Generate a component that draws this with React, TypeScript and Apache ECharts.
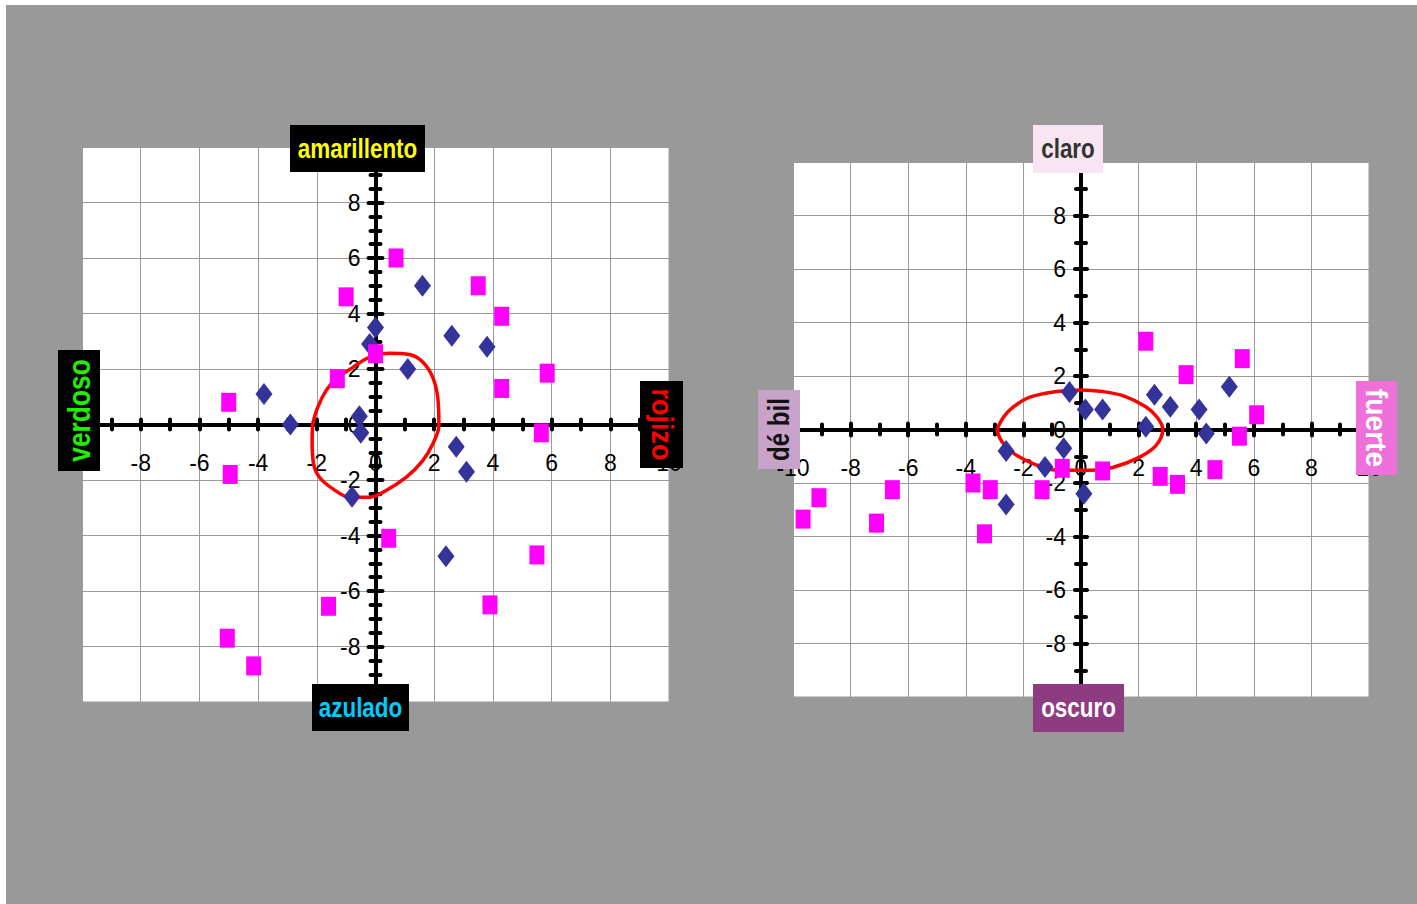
import React, { useEffect, useRef } from "react";
import * as echarts from "echarts";

// Left chart (amarillento / azulado / verdoso / rojizo)
const leftDiamonds: [number, number][] = [
  [-3.8, 1.1], [-2.9, 0.0], [-0.55, 0.3], [-0.5, -0.3], [0.0, 3.5], [-0.2, 2.9],
  [1.6, 5.0], [2.6, 3.2], [3.8, 2.8], [1.1, 2.0], [2.75, -0.8], [3.1, -1.7],
  [2.4, -4.75], [-0.8, -2.6],
];
const leftSquares: [number, number][] = [
  [0.7, 6.0], [-1.0, 4.6], [3.5, 5.0], [4.3, 3.9], [0.0, 2.55], [-1.3, 1.65],
  [5.85, 1.85], [4.3, 1.3], [-5.0, 0.8], [5.65, -0.3], [-4.95, -1.8], [0.45, -4.1],
  [5.5, -4.7], [-1.6, -6.55], [3.9, -6.5], [-5.05, -7.7], [-4.15, -8.7],
];
const leftLoop: [number, number][] = [
  [-2.14, 0.03], [-1.97, 0.62], [-1.68, 1.23], [-1.34, 1.65], [-0.77, 2.06], [-0.32, 2.37],
  [-0.03, 2.49], [0.48, 2.57], [1.16, 2.52], [1.61, 2.25], [1.95, 1.7], [2.12, 0.98],
  [2.16, -0.04], [1.95, -0.7], [1.61, -1.3], [1.05, -1.9], [0.36, -2.38], [-0.2, -2.62],
  [-0.89, -2.62], [-1.45, -2.32], [-1.91, -1.9], [-2.11, -1.42], [-2.16, -0.58], [-2.14, 0.03],
];

// Right chart (claro / oscuro / débil / fuerte)
const rightDiamonds: [number, number][] = [
  [-0.4, 1.4], [0.15, 0.75], [0.75, 0.75], [2.55, 1.3], [2.25, 0.1], [3.1, 0.85],
  [4.1, 0.75], [4.35, -0.15], [5.15, 1.6], [0.1, -2.4], [-2.6, -0.8], [-0.6, -0.7],
  [-1.25, -1.4], [-2.6, -2.8],
];
const rightSquares: [number, number][] = [
  [-9.1, -2.55], [-9.65, -3.35], [-6.55, -2.25], [-7.1, -3.5], [-3.75, -2.0], [-3.15, -2.25],
  [-3.35, -3.9], [-1.35, -2.25], [-0.65, -1.45], [0.75, -1.55], [2.25, 3.3], [5.6, 2.65],
  [3.65, 2.05], [6.1, 0.55], [5.5, -0.25], [4.65, -1.5], [2.75, -1.75], [3.35, -2.05],
];
const rightLoop: [number, number][] = [
  [-2.92, 0.0], [-2.7, 0.45], [-2.4, 0.8], [-1.8, 1.2], [-0.85, 1.42], [0.0, 1.48],
  [0.75, 1.42], [1.5, 1.25], [2.25, 0.85], [2.65, 0.45], [2.84, 0.0], [2.6, -0.6],
  [2.0, -1.05], [1.1, -1.42], [0.4, -1.52], [-0.85, -1.52], [-1.6, -1.3], [-2.3, -0.92],
  [-2.75, -0.45], [-2.92, 0.0],
];

const axisMin = -10;
const axisMax = 10;
const axisStep = 2;

const FONT = '"Liberation Sans", Arial, Helvetica, sans-serif';

const grids = [
  { left: 82, top: 147, width: 587, height: 555 },
  { left: 793, top: 162, width: 576, height: 535 },
];

function makeAxes(
  dim: "x" | "y",
  g: number,
  minorSplit: number,
  margin: number,
  majorLen: number,
  minorLen: number
) {
  const base: any = { type: "value", gridIndex: g, min: axisMin, max: axisMax, interval: axisStep };
  const pos = dim === "x" ? "bottom" : "left";
  // the crossing axes sit in the middle of the plot, where the value 0 lies
  const offset = dim === "x" ? -grids[g].height / 2 : -grids[g].width / 2;
  const gridAxis = {
    ...base,
    position: pos,
    axisLine: { show: false, onZero: false },
    axisTick: { show: false },
    axisLabel: { show: false },
    splitLine: { show: true, lineStyle: { color: "#9a9a9a", width: 1 } },
  };
  const tickStyle = { color: "#000", width: 4, cap: "round" };
  const outAxis = {
    ...base,
    position: pos,
    offset,
    axisLine: { show: true, onZero: false, lineStyle: { color: "#000", width: 4 } },
    axisTick: { show: true, inside: false, length: majorLen, lineStyle: tickStyle },
    minorTick: { show: true, splitNumber: minorSplit, length: minorLen, lineStyle: tickStyle },
    axisLabel: { show: true, margin, fontSize: 23, fontFamily: FONT, color: "#000" },
    splitLine: { show: false },
    minorSplitLine: { show: false },
  };
  const inAxis = {
    ...outAxis,
    axisTick: { ...outAxis.axisTick, inside: true },
    axisLabel: { show: false },
  };
  return [gridAxis, outAxis, inAxis];
}

function box(
  x: number, y: number, w: number, h: number, fill: string,
  text: string, color: string, fontSize: number, sx: number, rotation: number
) {
  return [
    { type: "rect", z: 100, shape: { x, y, width: w, height: h }, style: { fill } },
    {
      type: "text",
      z: 101,
      x: x + w / 2,
      y: y + h / 2,
      rotation,
      scaleX: sx,
      scaleY: 1,
      style: {
        text,
        fill: color,
        fontSize,
        fontWeight: "bold",
        fontFamily: FONT,
        align: "center",
        verticalAlign: "middle",
      },
    },
  ];
}

export default function App() {
  const ref = useRef<HTMLDivElement>(null);
  useEffect(() => {
    if (!ref.current) return;
    const chart = echarts.init(ref.current, undefined, { renderer: "svg" });
    const loopSeries = (data: [number, number][], ax: number) => ({
      type: "line",
      xAxisIndex: ax,
      yAxisIndex: ax,
      data,
      symbol: "none",
      showSymbol: false,
      smooth: 0.35,
      lineStyle: { color: "#ff0000", width: 3.5 },
      z: 3,
    });
    const diamondSeries = (data: [number, number][], ax: number) => ({
      type: "scatter",
      xAxisIndex: ax,
      yAxisIndex: ax,
      data,
      symbol: "diamond",
      symbolSize: [17, 22],
      itemStyle: { color: "#333399", opacity: 1 },
      z: 4,
    });
    const squareSeries = (data: [number, number][], ax: number) => ({
      type: "scatter",
      xAxisIndex: ax,
      yAxisIndex: ax,
      data,
      symbol: "rect",
      symbolSize: [15, 19],
      itemStyle: { color: "#ff00ff", opacity: 1 },
      z: 5,
    });
    chart.setOption({
      animation: false,
      backgroundColor: "transparent",
      grid: grids.map((g) => ({
        ...g,
        show: true,
        backgroundColor: "#fff",
        borderColor: "#9a9a9a",
        borderWidth: 1,
        outerBoundsMode: "none",
      })),
      xAxis: [...makeAxes("x", 0, 2, 27, 5, 5), ...makeAxes("x", 1, 2, 27, 6, 5)],
      yAxis: [...makeAxes("y", 0, 4, 15, 7, 5), ...makeAxes("y", 1, 2, 15, 6, 5)],
      series: [
        loopSeries(leftLoop, 0),
        diamondSeries(leftDiamonds, 0),
        squareSeries(leftSquares, 0),
        loopSeries(rightLoop, 3),
        diamondSeries(rightDiamonds, 3),
        squareSeries(rightSquares, 3),
      ],
      graphic: [
        ...box(290, 125, 135, 47, "#000", "amarillento", "#ffff00", 27, 0.83, 0),
        ...box(58, 350, 42, 121, "#000", "verdoso", "#22ee00", 31, 0.85, Math.PI / 2),
        ...box(640, 381, 43, 87, "#000", "rojizo", "#ff0000", 29, 0.93, -Math.PI / 2),
        ...box(312, 684, 97, 47, "#000", "azulado", "#00ccff", 27, 0.83, 0),
        ...box(1033, 125, 70, 48, "#f7e6f2", "claro", "#333333", 27, 0.83, 0),
        ...box(758, 390, 42, 79, "#c8a2c8", "dé bil", "#111111", 29, 0.83, Math.PI / 2),
        ...box(1356, 381, 41, 94, "#ee70da", "fuerte", "#ffffff", 30, 0.94, -Math.PI / 2),
        ...box(1033, 684, 91, 48, "#8e3b82", "oscuro", "#ffffff", 27, 0.83, 0),
      ],
    });
    return () => chart.dispose();
  }, []);
  return (
    <div style={{ position: "absolute", left: 0, top: 0, width: 1417, height: 904, background: "#fff" }}>
      <div style={{ position: "absolute", left: 6, top: 5, width: 1411, height: 899, background: "#999999" }} />
      <div ref={ref} style={{ position: "absolute", left: 0, top: 0, width: 1417, height: 904 }} />
    </div>
  );
}
